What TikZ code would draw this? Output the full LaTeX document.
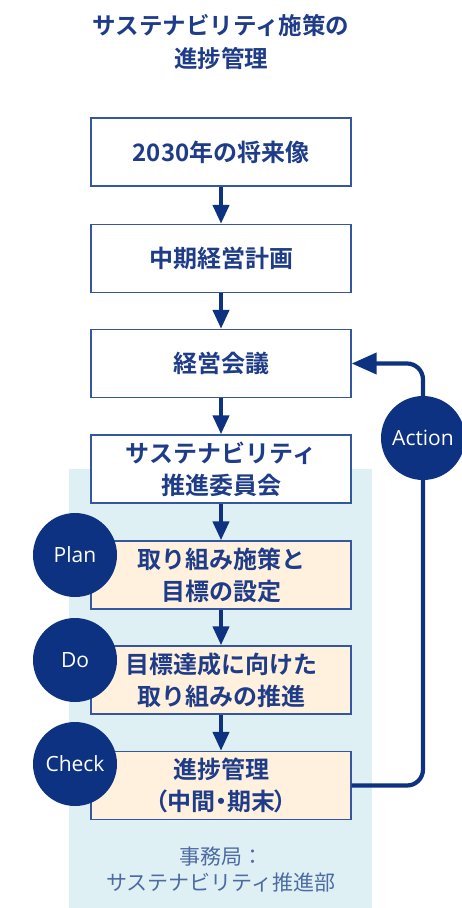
\documentclass[tikz,border=0pt]{standalone}
\usepackage{fontspec}
\setmainfont{Open Sans}
\newfontfamily\jp{Noto Sans CJK JP}
\newfontfamily\jpb{Noto Sans CJK JP Bold}
\newfontfamily\jpbp[RawFeature=+palt]{Noto Sans CJK JP Bold}
\usetikzlibrary{arrows.meta}
\definecolor{navy}{HTML}{0D3282}
\definecolor{txtblue}{HTML}{1E3C88}
\definecolor{edgeblue}{HTML}{3556A0}
\definecolor{bgblue}{HTML}{DFF0F4}
\definecolor{cream}{HTML}{FFF1DE}
\definecolor{greyblue}{HTML}{4D6BA3}
\tikzset{
  stepbox/.style={draw=edgeblue, line width=1.4pt, fill=white, minimum width=260pt, minimum height=68pt,
    inner sep=0pt, align=center, text=txtblue, font=\jpb\fontsize{24}{32}\selectfont},
  pdcabox/.style={stepbox, fill=cream},
  phase/.style={circle, fill=navy, minimum size=84pt, inner sep=0pt, text=white,
    font=\fontsize{21}{24}\selectfont},
  flow/.style={draw=navy, line width=4.2pt, -{Triangle[length=19pt,width=16pt]}},
  loopline/.style={draw=navy, line width=4.2pt, rounded corners=16pt},
}
\begin{document}
\begin{tikzpicture}[x=1pt,y=-1pt]
\useasboundingbox (0,0) rectangle (462,908);
\fill[bgblue] (69,469) rectangle (372,908);
\node[text=txtblue, align=center, font=\jpb\fontsize{23.5}{33}\selectfont] (title) at (221,42)
  {サステナビリティ施策の\\進捗管理};
\node[stepbox] (b1) at (221,152) {2030年の将来像};
\node[stepbox] (b2) at (221,258.5) {中期経営計画};
\node[stepbox] (b3) at (221,363.5) {経営会議};
\node[stepbox] (b4) at (221,469) {サステナビリティ\\推進委員会};
\node[pdcabox] (b5) at (221,575) {取り組み施策と\\目標の設定};
\node[pdcabox] (b6) at (221,680) {目標達成に向けた\\取り組みの推進};
\node[pdcabox] (b7) at (221,785.5) {進捗管理\\{\jpbp（中間・期末）}};
\draw[flow] (b1) -- (b2);
\draw[flow] (b2) -- (b3);
\draw[flow] (b3) -- (b4);
\draw[flow] (b4) -- (b5);
\draw[flow] (b5) -- (b6);
\draw[flow] (b6) -- (b7);
\node[phase] (plan) at (75,555) {Plan};
\node[phase] (do) at (75,660) {Do};
\node[phase] (check) at (75,764) {Check};
\node[phase] (act) at (423,438) {Action};
\draw[loopline] (b7.east) -| (act.south);
\draw[loopline, -{Triangle[length=25pt,width=21pt]}] (act.north) |- (b3.east);
\node[text=greyblue, align=center, font=\jp\fontsize{21}{26}\selectfont] (office) at (221,870)
  {事務局：\\サステナビリティ推進部};
\end{tikzpicture}
\end{document}
